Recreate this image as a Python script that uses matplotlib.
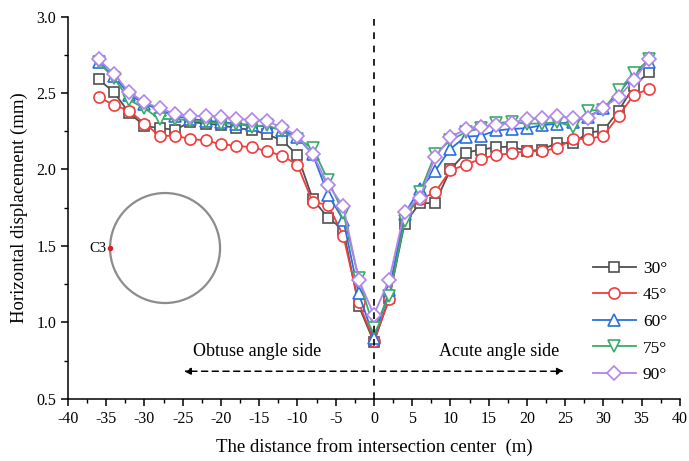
import numpy as np
import matplotlib
matplotlib.use('Agg')
import matplotlib.pyplot as plt
from matplotlib.patches import Circle
from matplotlib.ticker import MultipleLocator

plt.rcParams['font.family'] = ['Liberation Serif', 'DejaVu Serif']

# distance from intersection center (m)
dist = [-36, -34, -32, -30, -28, -26, -24, -22, -20, -18, -16, -14, -12, -10, -8, -6, -4, -2, 0,
        2, 4, 6, 8, 10, 12, 14, 16, 18, 20, 22, 24, 26, 28, 30, 32, 34, 36]

# horizontal displacement (mm) for each intersection angle
d30 = [2.59, 2.505, 2.37, 2.285, 2.27, 2.26, 2.31, 2.30, 2.29, 2.27, 2.26, 2.23, 2.19, 2.095, 1.805, 1.685, 1.605, 1.11, 0.87,
       1.16, 1.645, 1.78, 1.78, 2.00, 2.11, 2.13, 2.145, 2.15, 2.12, 2.13, 2.175, 2.17, 2.24, 2.255, 2.385, 2.545, 2.64]
d45 = [2.475, 2.42, 2.385, 2.30, 2.22, 2.22, 2.20, 2.19, 2.165, 2.155, 2.145, 2.12, 2.09, 2.03, 1.785, 1.77, 1.565, 1.13, 0.88,
       1.15, 1.70, 1.805, 1.85, 1.995, 2.03, 2.07, 2.095, 2.105, 2.12, 2.12, 2.14, 2.20, 2.20, 2.22, 2.35, 2.49, 2.525]
d60 = [2.70, 2.61, 2.49, 2.43, 2.39, 2.35, 2.33, 2.32, 2.31, 2.30, 2.29, 2.28, 2.26, 2.21, 2.10, 1.835, 1.67, 1.19, 0.90,
       1.21, 1.71, 1.87, 1.99, 2.135, 2.215, 2.22, 2.255, 2.265, 2.27, 2.29, 2.30, 2.31, 2.345, 2.40, 2.50, 2.62, 2.70]
d75 = [2.70, 2.60, 2.455, 2.40, 2.33, 2.33, 2.32, 2.31, 2.30, 2.30, 2.28, 2.29, 2.25, 2.20, 2.14, 1.93, 1.715, 1.29, 0.96,
       1.17, 1.66, 1.85, 2.10, 2.19, 2.245, 2.27, 2.305, 2.31, 2.30, 2.30, 2.31, 2.28, 2.385, 2.39, 2.52, 2.63, 2.72]
d90 = [2.72, 2.625, 2.505, 2.44, 2.40, 2.365, 2.35, 2.35, 2.345, 2.33, 2.325, 2.315, 2.275, 2.22, 2.10, 1.90, 1.76, 1.28, 1.05,
       1.28, 1.725, 1.815, 2.08, 2.21, 2.265, 2.28, 2.29, 2.305, 2.33, 2.335, 2.35, 2.335, 2.335, 2.405, 2.475, 2.585, 2.72]

labels = ['30°', '45°', '60°', '75°', '90°']
series = [d30, d45, d60, d75, d90]
colors = ['#505050', '#f03c3c', '#2a6fe0', '#3aaa6a', '#b084ec']
markers = ['s', 'o', '^', 'v', 'D']
msizes = [7, 8, 8, 8, 7]

fig = plt.figure(figsize=(6.89, 4.61), dpi=100)
ax = fig.add_axes([0.0987, 0.135, 0.888, 0.829])

for y, lab, c, m, ms in zip(series, labels, colors, markers, msizes):
    ax.plot(dist, y, color=c, marker=m, markersize=ms, markerfacecolor='white',
            markeredgecolor=c, markeredgewidth=1.2, linewidth=1.3, label=lab)

# center line
ax.plot([0, 0], [0.5, 3.0], color='black', linestyle=(0, (4, 4)), linewidth=1.2)

# side annotations
ax.annotate('', xy=(-25.2, 0.68), xytext=(-0.4, 0.68),
            arrowprops=dict(arrowstyle='-|>', color='black', linestyle=(0, (4, 3)), lw=1.1,
                            mutation_scale=10))
ax.annotate('', xy=(25.2, 0.68), xytext=(0.4, 0.68),
            arrowprops=dict(arrowstyle='-|>', color='black', linestyle=(0, (4, 3)), lw=1.1,
                            mutation_scale=10))
ax.text(-15.3, 0.81, 'Obtuse angle side', ha='center', va='center', fontsize=13)
ax.text(16.4, 0.81, 'Acute angle side', ha='center', va='center', fontsize=13)

ax.set_xlim(-40, 40)
ax.set_ylim(0.5, 3.0)
ax.xaxis.set_major_locator(MultipleLocator(5))
ax.xaxis.set_minor_locator(MultipleLocator(2.5))
ax.yaxis.set_major_locator(MultipleLocator(0.5))
ax.yaxis.set_minor_locator(MultipleLocator(0.25))
ax.tick_params(which='major', direction='out', length=5, width=1.1, labelsize=11.5)
ax.tick_params(which='minor', direction='out', length=3, width=1.0)
ax.set_xticks(np.arange(-40, 41, 5))
ax.set_xticklabels([str(v) for v in range(-40, 41, 5)])
ax.spines['top'].set_visible(False)
ax.spines['right'].set_visible(False)
ax.spines['left'].set_linewidth(1.1)
ax.spines['bottom'].set_linewidth(1.1)

ax.set_xlabel('The distance from intersection center  (m)', fontsize=13.5, labelpad=8)
ax.set_ylabel('Horizontal displacement (mm)', fontsize=13.5, labelpad=6)

leg = ax.legend(loc='lower right', bbox_to_anchor=(1.005, 0.0), frameon=False, fontsize=12.5,
                handlelength=2.5, labelspacing=0.6, handletextpad=0.4)

# inset sketch of the tunnel section with point C3
ins = fig.add_axes([0.1597, 0.3427, 0.1597, 0.2386])
ins.set_xlim(-1.0, 1.0)
ins.set_ylim(-1.0, 1.0)
ins.set_aspect('equal')
ins.axis('off')
ins.add_patch(Circle((0, 0), 1.0, fill=False, edgecolor='#8c8c8c', linewidth=1.6, clip_on=False))
ins.plot([-1.0], [0], marker='o', color='#e02020', markersize=3, clip_on=False)
ins.text(-1.06, 0, 'C3', ha='right', va='center', fontsize=10.5, clip_on=False)

fig.savefig('out.png', dpi=100)
